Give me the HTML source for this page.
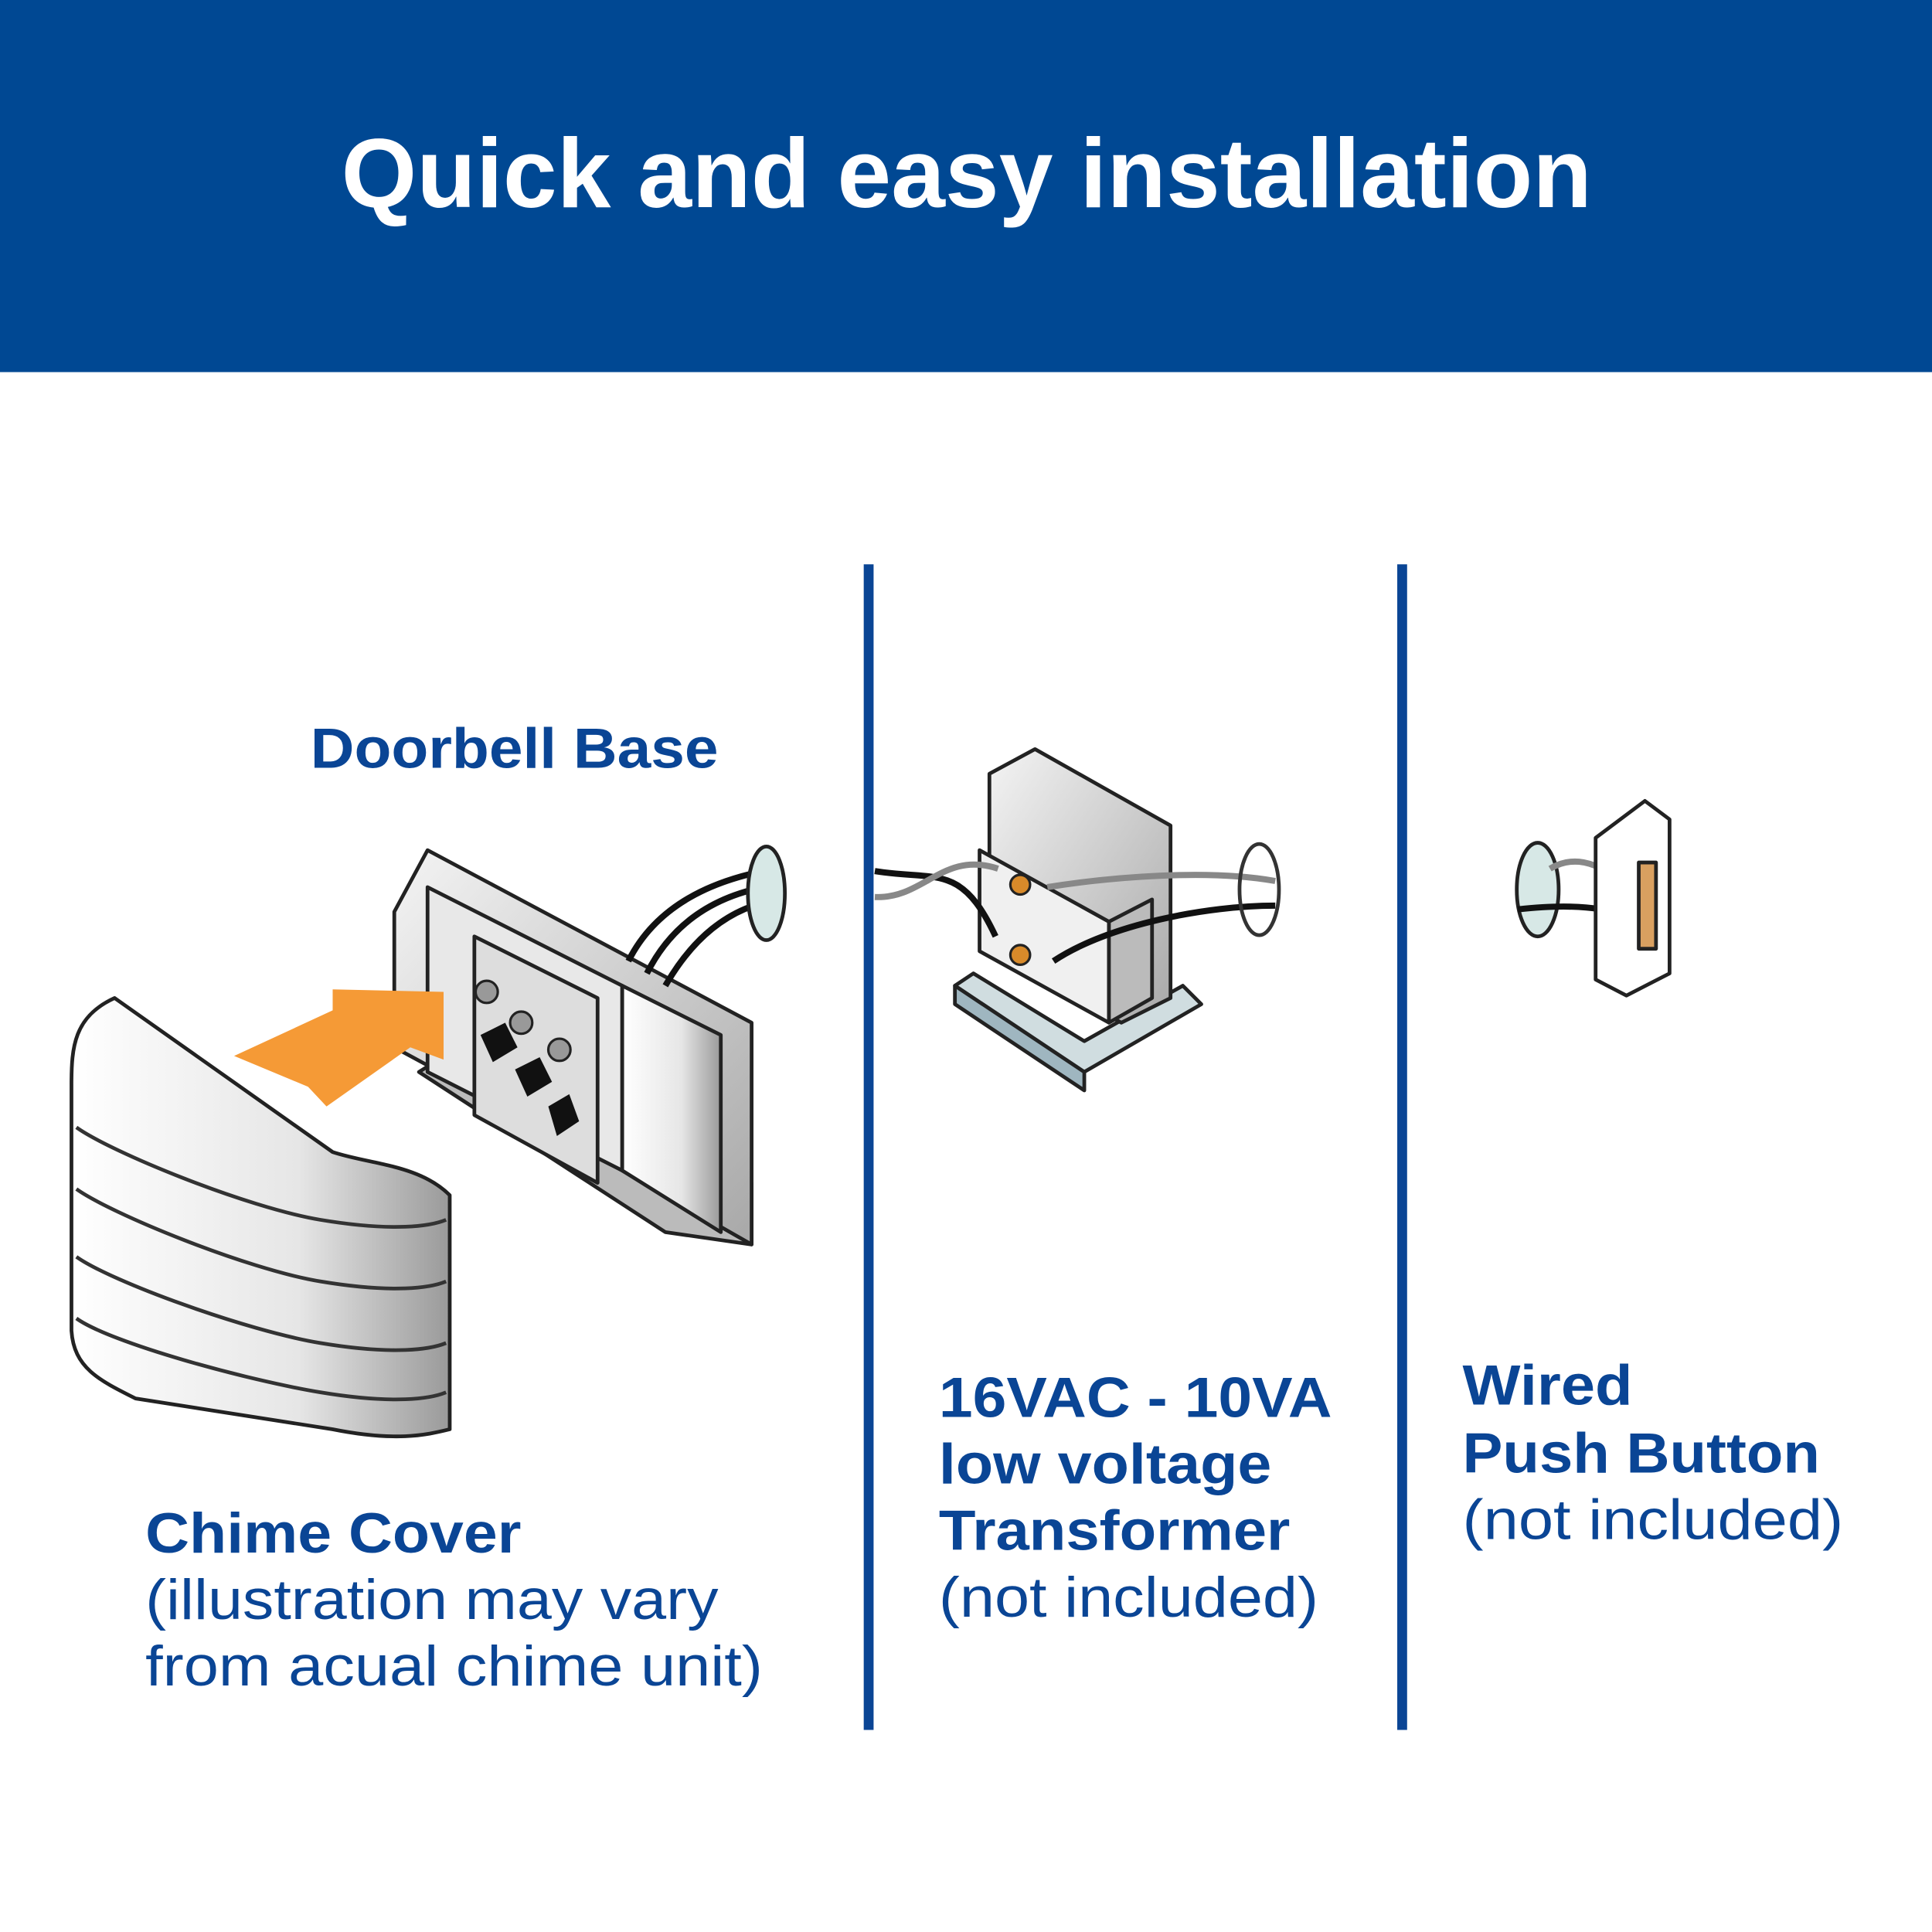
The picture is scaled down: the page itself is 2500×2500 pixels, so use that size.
<!DOCTYPE html>
<html><head><meta charset="utf-8"><style>
html,body{margin:0;padding:0;background:#fff}
svg{display:block}
text{font-family:"Liberation Sans",Arial,sans-serif;fill:#0a4595}
</style></head><body>
<svg width="2500" height="2500" viewBox="0 0 1568 1568" xmlns="http://www.w3.org/2000/svg">
<defs>
<linearGradient id="g1" x1="0" y1="0" x2="1" y2="0"><stop offset="0" stop-color="#fff"/><stop offset="0.6" stop-color="#e6e6e6"/><stop offset="1" stop-color="#9a9a9a"/></linearGradient>
<linearGradient id="g2" x1="0" y1="0" x2="1" y2="1"><stop offset="0" stop-color="#f4f4f4"/><stop offset="1" stop-color="#a8a8a8"/></linearGradient>
</defs>
<rect x="0" y="0" width="1568" height="302" fill="#004893"/>
<text x="277" y="168" font-size="80" font-weight="bold" style="fill:#fff" textLength="1015" lengthAdjust="spacingAndGlyphs">Quick and easy installation</text>
<rect x="701" y="458" width="8" height="946" fill="#0a4595"/>
<rect x="1134" y="458" width="8" height="946" fill="#0a4595"/>

<!-- Doorbell base -->
<g stroke="#222" stroke-width="3" stroke-linejoin="round">
<polygon points="340,870 540,1000 610,1010 610,960 380,845" fill="#bbb"/>
<polygon points="320,740 347,690 610,830 610,1010 505,950 320,850" fill="url(#g2)"/>
<polygon points="347,720 505,800 505,950 347,870" fill="#e8e8e8"/>
<polygon points="385,760 485,810 485,960 385,905" fill="#ddd"/>
<polygon points="505,800 585,840 585,1000 505,950" fill="url(#g1)"/>
</g>
<g fill="none" stroke="#111" stroke-width="5">
<path d="M510,780 C530,740 570,715 630,705"/><path d="M525,790 C545,750 580,725 632,718"/><path d="M540,800 C560,765 590,735 634,730"/>
</g>
<ellipse cx="622" cy="725" rx="15" ry="38" fill="#d7e8e6" stroke="#222" stroke-width="3"/>
<g fill="#999" stroke="#222" stroke-width="2"><circle cx="395" cy="805" r="9"/><circle cx="423" cy="830" r="9"/><circle cx="454" cy="852" r="9"/></g>
<g fill="#111"><polygon points="390,840 410,830 420,850 400,862"/><polygon points="418,868 438,858 448,878 428,890"/><polygon points="445,898 462,888 470,910 452,922"/></g>
<polygon points="190,857 270,820 270,803 360,805 360,860 333,850 265,898 250,882" fill="#f59a36"/>

<!-- Chime cover -->
<g stroke="#222" stroke-width="3" stroke-linejoin="round">
<path d="M93,810 C60,825 58,850 58,880 L58,1080 C60,1110 80,1120 110,1135 L270,1160 C320,1170 345,1165 365,1160 L365,970 C340,945 300,945 270,935 Z" fill="url(#g1)"/>
</g>
<g fill="none" stroke="#333" stroke-width="3">
<path d="M62,915 C90,935 200,980 260,990 C320,1000 350,995 362,990"/>
<path d="M62,965 C90,985 200,1030 260,1040 C320,1050 350,1045 362,1040"/>
<path d="M62,1020 C90,1040 200,1080 260,1090 C320,1100 350,1095 362,1090"/>
<path d="M62,1070 C90,1090 200,1120 260,1130 C320,1140 350,1135 362,1130"/>
</g>

<!-- Transformer -->
<g stroke="#222" stroke-width="3" stroke-linejoin="round">
<polygon points="775,800 880,870 975,815 960,800 880,845 790,790" fill="#d0dde0"/>
<polygon points="775,800 880,870 880,885 775,815" fill="#9fb6c0"/>
<polygon points="803,628 840,608 950,670 950,810 910,830 803,770" fill="url(#g2)"/>
<polygon points="795,690 900,748 900,830 795,772" fill="#f0f0f0"/>
<polygon points="900,748 935,730 935,810 900,830" fill="#bbb"/>
</g>
<g fill="none" stroke-width="5"><path d="M710,707 C760,715 780,700 808,760" stroke="#111"/><path d="M710,728 C750,730 765,690 810,705" stroke="#888"/>
<path d="M850,720 C900,712 980,705 1035,715" stroke="#888"/><path d="M855,780 C900,750 980,735 1035,735" stroke="#111"/></g>
<ellipse cx="1022" cy="722" rx="16" ry="37" fill="none" stroke="#333" stroke-width="3"/>
<circle cx="828" cy="718" r="8" fill="#d88a2a" stroke="#222" stroke-width="2"/><circle cx="828" cy="775" r="8" fill="#d88a2a" stroke="#222" stroke-width="2"/>

<!-- Push button -->
<ellipse cx="1248" cy="722" rx="17" ry="38" fill="#d7e8e6" stroke="#222" stroke-width="3"/>
<g fill="none" stroke-width="5"><path d="M1232,738 C1260,735 1280,735 1300,738" stroke="#111"/><path d="M1258,705 C1275,695 1290,700 1300,705" stroke="#888"/></g>
<g stroke="#222" stroke-width="3" stroke-linejoin="round">
<polygon points="1295,680 1335,650 1355,665 1355,790 1320,808 1295,795" fill="#fff"/>
<rect x="1330" y="700" width="14" height="70" fill="#d9a060"/>
</g>

<!-- Labels -->
<text x="252" y="623" font-size="46" font-weight="bold" textLength="331" lengthAdjust="spacingAndGlyphs">Doorbell Base</text>
<text x="118" y="1260" font-size="46" font-weight="bold" textLength="305" lengthAdjust="spacingAndGlyphs">Chime Cover</text>
<text x="118" y="1314" font-size="46" textLength="465" lengthAdjust="spacingAndGlyphs">(illustration may vary</text>
<text x="118" y="1368" font-size="46" textLength="501" lengthAdjust="spacingAndGlyphs">from acual chime unit)</text>
<text x="762" y="1150" font-size="46" font-weight="bold" textLength="319" lengthAdjust="spacingAndGlyphs">16VAC - 10VA</text>
<text x="762" y="1204" font-size="46" font-weight="bold" textLength="270" lengthAdjust="spacingAndGlyphs">low voltage</text>
<text x="762" y="1258" font-size="46" font-weight="bold" textLength="285" lengthAdjust="spacingAndGlyphs">Transformer</text>
<text x="762" y="1312" font-size="46" textLength="308" lengthAdjust="spacingAndGlyphs">(not included)</text>
<text x="1187" y="1140" font-size="46" font-weight="bold" textLength="138" lengthAdjust="spacingAndGlyphs">Wired</text>
<text x="1187" y="1195" font-size="46" font-weight="bold" textLength="290" lengthAdjust="spacingAndGlyphs">Push Button</text>
<text x="1187" y="1249" font-size="46" textLength="309" lengthAdjust="spacingAndGlyphs">(not included)</text>
</svg>
</body></html>
